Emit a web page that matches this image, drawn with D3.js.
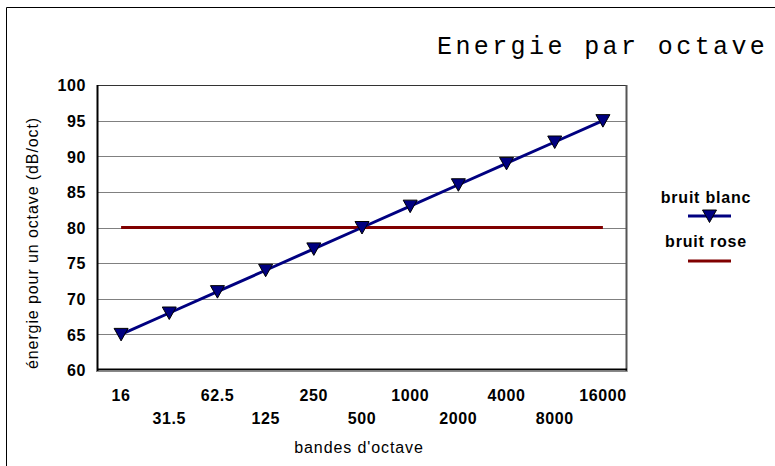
<!DOCTYPE html>
<html>
<head>
<meta charset="utf-8">
<script src="https://cdn.jsdelivr.net/npm/d3@7"></script>
<style>
  html, body { margin: 0; padding: 0; background: #fff; }
  svg { display: block; }
</style>
</head>
<body>
<script>
// Octave band centre frequencies (Hz)
const bands = ["16", "31.5", "62.5", "125", "250", "500", "1000", "2000", "4000", "8000", "16000"];
// Energy per octave, dB/oct
const bruitBlanc = [65, 68, 71, 74, 77, 80, 83, 86, 89, 92, 95];
const bruitRose = [80, 80, 80, 80, 80, 80, 80, 80, 80, 80, 80];
const yTicks = [60, 65, 70, 75, 80, 85, 90, 95, 100];

const W = 775, H = 466;
const plot = { left: 97, right: 627, top: 85, bottom: 370 };
const sans = "Liberation Sans, Arial, sans-serif";

const svg = d3.select("body").append("svg").attr("width", W).attr("height", H);

// outer frame (top and left edges visible)
svg.append("path").attr("d", `M6.5,${H} V7.5 H${W}`)
  .attr("fill", "none").attr("stroke", "#000").attr("stroke-width", 1);

const x = d3.scaleBand().domain(bands).range([plot.left, plot.right]).padding(0);
const y = d3.scaleLinear().domain([60, 100]).range([plot.bottom, plot.top]);
const cx = d => x(d) + x.bandwidth() / 2;

// horizontal gridlines
svg.append("g").selectAll("line").data(yTicks.filter(t => t > 60 && t < 100)).join("line")
  .attr("x1", plot.left).attr("x2", plot.right)
  .attr("y1", d => Math.round(y(d)) + 0.5).attr("y2", d => Math.round(y(d)) + 0.5)
  .attr("stroke", "#808080").attr("stroke-width", 1);

// plot frame
svg.append("line").attr("x1", plot.left).attr("x2", plot.right)
  .attr("y1", plot.top + 0.5).attr("y2", plot.top + 0.5).attr("stroke", "#333").attr("stroke-width", 1);
svg.append("line").attr("x1", plot.right - 0.5).attr("x2", plot.right - 0.5)
  .attr("y1", plot.top).attr("y2", plot.bottom + 2).attr("stroke", "#555").attr("stroke-width", 2);
svg.append("line").attr("x1", plot.left + 0.5).attr("x2", plot.left + 0.5)
  .attr("y1", plot.top).attr("y2", plot.bottom + 2).attr("stroke", "#000").attr("stroke-width", 2);
// double baseline
svg.append("line").attr("x1", plot.left).attr("x2", plot.right)
  .attr("y1", plot.bottom - 0.5).attr("y2", plot.bottom - 0.5).attr("stroke", "#000").attr("stroke-width", 2);
svg.append("line").attr("x1", plot.left).attr("x2", plot.right)
  .attr("y1", plot.bottom + 1.5).attr("y2", plot.bottom + 1.5).attr("stroke", "#888").attr("stroke-width", 1);

// y axis tick labels
const yAxis = d3.axisLeft(y).tickValues(yTicks).tickSize(0).tickPadding(0);
const gy = svg.append("g").attr("transform", `translate(${plot.left - 11},0)`).call(yAxis);
gy.select(".domain").remove();
gy.selectAll("text").attr("font-family", sans)
  .attr("font-size", 16).attr("font-weight", "bold").attr("letter-spacing", 0.6)
  .attr("fill", "#000").attr("dy", "0.36em");

// x axis tick labels, staggered on two rows
const xAxis = d3.axisBottom(x).tickSize(0).tickPadding(0);
const gx = svg.append("g").attr("transform", `translate(0,${plot.bottom})`).call(xAxis);
gx.select(".domain").remove();
gx.selectAll("text").attr("font-family", sans)
  .attr("font-size", 16).attr("font-weight", "bold").attr("letter-spacing", 0.6)
  .attr("fill", "#000")
  .attr("dy", null)
  .attr("y", (d, i) => i % 2 === 0 ? 31 : 54);

// series lines
const line = d3.line().x((d, i) => cx(bands[i])).y(d => y(d));
svg.append("path").datum(bruitRose).attr("d", line)
  .attr("fill", "none").attr("stroke", "#800000").attr("stroke-width", 3);
svg.append("path").datum(bruitBlanc).attr("d", line)
  .attr("fill", "none").attr("stroke", "#000080").attr("stroke-width", 3);

// downward triangle markers
const tri = (px, py) => `M${px - 7},${py - 6} L${px + 7},${py - 6} L${px},${py + 6.5} Z`;
svg.append("g").selectAll("path").data(bruitBlanc).join("path")
  .attr("d", (d, i) => tri(cx(bands[i]), y(d)))
  .attr("fill", "#000080").attr("stroke", "#000").attr("stroke-width", 1);

// title
svg.append("text").attr("x", 437).attr("y", 54)
  .attr("font-family", "Liberation Mono, DejaVu Sans Mono, monospace")
  .attr("font-size", 25).attr("letter-spacing", 3.4)
  .attr("fill", "#000").text("Energie par octave");

// axis titles
svg.append("text").attr("x", 359).attr("y", 453).attr("text-anchor", "middle")
  .attr("font-family", sans).attr("font-size", 16).attr("letter-spacing", 0.9)
  .attr("fill", "#000").text("bandes d'octave");
svg.append("text").attr("transform", "translate(38,243) rotate(-90)").attr("text-anchor", "middle")
  .attr("font-family", sans).attr("font-size", 16).attr("letter-spacing", 0.9)
  .attr("fill", "#000").text("énergie pour un octave (dB/oct)");

// legend
const legend = [
  { name: "bruit blanc", color: "#000080", marker: true, ty: 203, ly: 216 },
  { name: "bruit rose", color: "#800000", marker: false, ty: 247, ly: 261 }
];
const lg = svg.append("g");
legend.forEach(s => {
  lg.append("text").attr("x", 706).attr("y", s.ty).attr("text-anchor", "middle")
    .attr("font-family", sans).attr("font-size", 16).attr("letter-spacing", 0.8)
    .attr("font-weight", "bold").attr("fill", "#000").text(s.name);
  lg.append("line").attr("x1", 688).attr("x2", 731).attr("y1", s.ly).attr("y2", s.ly)
    .attr("stroke", s.color).attr("stroke-width", 3);
  if (s.marker) {
    lg.append("path").attr("d", tri(709.5, s.ly)).attr("fill", s.color)
      .attr("stroke", "#000").attr("stroke-width", 1);
  }
});
</script>
</body>
</html>
